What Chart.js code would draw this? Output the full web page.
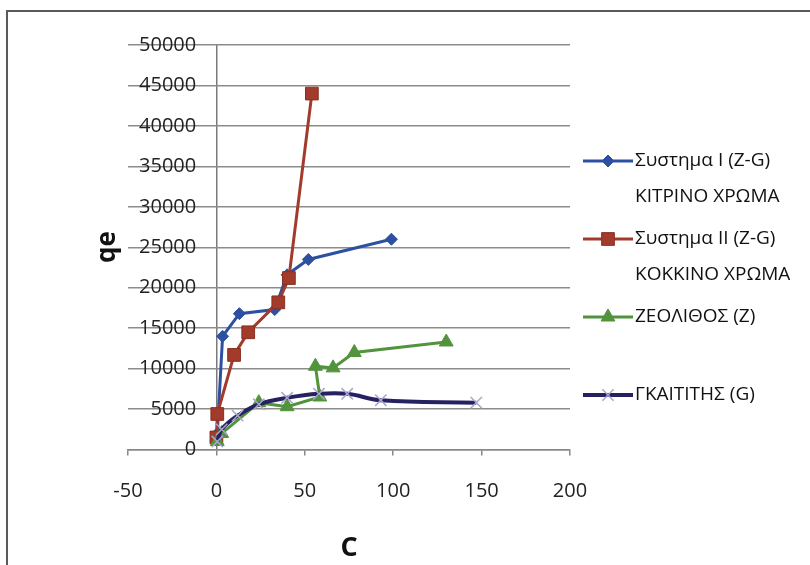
<!DOCTYPE html>
<html>
<head>
<meta charset="utf-8">
<script src="https://cdn.jsdelivr.net/npm/chart.js@4.4.1/dist/chart.umd.min.js"></script>
<style>
html, body { margin: 0; padding: 0; background: #fff; }
#wrap { position: relative; width: 810px; height: 565px; overflow: hidden; }
#frame { position: absolute; left: 6px; top: 10px; right: 0; bottom: 0; border-top: 2px solid #5a5a5a; border-left: 2px solid #5a5a5a; }
canvas { position: absolute; left: 0; top: 0; }
</style>
</head>
<body>
<div id="wrap">
  <div id="frame"></div>
  <canvas id="chart" width="810" height="565"></canvas>
</div>
<script>
// Values (C on x, qe on y)
const seriesNames = [
    ["Συστημα I (Z-G)", "ΚΙΤΡΙΝΟ ΧΡΩΜΑ"],
    ["Συστημα II (Z-G)", "ΚΟΚΚΙΝΟ ΧΡΩΜΑ"],
    ["ΖΕΟΛΙΘΟΣ (Z)"],
    ["ΓΚΑΙΤΙΤΗΣ (G)"]
];
const sys1C = [0.5, 3.5, 13, 33, 40, 52, 99];
const sys1Q = [2000, 14000, 16800, 17300, 21600, 23500, 26000];
const sys2C = [0, 0.5, 10, 18, 35, 41, 54];
const sys2Q = [1500, 4400, 11700, 14500, 18200, 21200, 44000];
const zeoC = [0.5, 3, 24, 40, 58.5, 56, 66, 78, 130];
const zeoQ = [1000, 2000, 5800, 5300, 6500, 10300, 10100, 12000, 13300];
const gkaC = [0.5, 3, 12, 24, 40, 58, 74, 93, 147];
const gkaQ = [1000, 2500, 4200, 5600, 6400, 6900, 6900, 6100, 5800];

const xTicks = [-50, 0, 50, 100, 150, 200];
const yTicks = [0, 5000, 10000, 15000, 20000, 25000, 30000, 35000, 40000, 45000, 50000];

function toPoints(xs, ys) {
    return xs.map((x, i) => ({ x: x, y: ys[i] }));
}

Chart.defaults.font.family = "'Open Sans', sans-serif";
Chart.defaults.color = '#222';

// Excel style legend at the right, with two-line labels, plus the rotated y title
const sideLegend = {
    id: 'sideLegend',
    afterDraw(chart) {
        const ctx = chart.ctx;
        ctx.save();
        chart.data.datasets.forEach((ds, i) => {
            const y = 161 + i * 78;
            ctx.strokeStyle = ds.borderColor;
            ctx.lineWidth = ds.borderWidth;
            ctx.beginPath();
            ctx.moveTo(583, y);
            ctx.lineTo(633, y);
            ctx.stroke();
            ctx.fillStyle = ds.pointBackgroundColor;
            ctx.strokeStyle = ds.pointBorderColor;
            ctx.lineWidth = ds.pointBorderWidth;
            Chart.helpers.drawPoint(ctx, {
                pointStyle: ds.pointStyle,
                radius: ds.pointRadius,
                borderWidth: ds.pointBorderWidth
            }, 608, y);
            ctx.fillStyle = '#111';
            ctx.font = "19px 'Open Sans', sans-serif";
            ctx.textAlign = 'left';
            ctx.textBaseline = 'middle';
            seriesNames[i].forEach((line, j) => ctx.fillText(line, 635, y + j * 36));
        });
        ctx.translate(108, 247);
        ctx.rotate(-Math.PI / 2);
        ctx.font = "bold 26px 'Open Sans', sans-serif";
        ctx.textAlign = 'center';
        ctx.textBaseline = 'middle';
        ctx.fillStyle = '#111';
        ctx.fillText('qe', 0, 0);
        ctx.restore();
    }
};

new Chart(document.getElementById('chart'), {
    type: 'line',
    data: {
        datasets: [{
            label: seriesNames[0].join(' '),
            data: toPoints(sys1C, sys1Q),
            order: 4,
            borderColor: '#2d50a0',
            borderWidth: 3,
            pointStyle: 'rectRot',
            pointRadius: 6,
            pointBackgroundColor: '#2d50a0',
            pointBorderColor: '#2d50a0',
            pointBorderWidth: 1
        }, {
            label: seriesNames[1].join(' '),
            data: toPoints(sys2C, sys2Q),
            order: 3,
            borderColor: '#a23b2b',
            borderWidth: 3,
            pointStyle: 'rect',
            pointRadius: 9,
            pointBackgroundColor: '#a23b2b',
            pointBorderColor: '#8a3022',
            pointBorderWidth: 1
        }, {
            label: seriesNames[2].join(' '),
            data: toPoints(zeoC, zeoQ),
            order: 2,
            borderColor: '#52933d',
            borderWidth: 3,
            pointStyle: 'triangle',
            pointRadius: 8,
            pointBackgroundColor: '#52933d',
            pointBorderColor: '#52933d',
            pointBorderWidth: 1
        }, {
            label: seriesNames[3].join(' '),
            data: toPoints(gkaC, gkaQ),
            order: 1,
            borderColor: '#262262',
            borderWidth: 4,
            tension: 0.4,
            pointStyle: 'crossRot',
            pointRadius: 8,
            pointBackgroundColor: '#aaa5cc',
            pointBorderColor: '#aaa5cc',
            pointBorderWidth: 1.5
        }]
    },
    options: {
        responsive: false,
        animation: false,
        layout: { padding: { left: 128, right: 240, top: 45, bottom: 0 } },
        plugins: { legend: { display: false }, tooltip: { enabled: false } },
        scales: {
            x: {
                type: 'linear',
                min: -50,
                max: 200,
                afterBuildTicks: (axis) => { axis.ticks = xTicks.map(v => ({ value: v })); },
                grid: {
                    drawOnChartArea: true,
                    tickLength: 6,
                    tickColor: '#888',
                    lineWidth: 1.5,
                    // only the line at C = 0 acts as the vertical axis
                    color: (c) => (c.tick && c.tick.value === 0) ? '#7a7a7a' : 'rgba(0,0,0,0)'
                },
                border: { color: '#888', width: 1.5 },
                ticks: { font: { size: 20 }, padding: 24, color: '#222' },
                title: {
                    display: true,
                    text: 'C',
                    font: { size: 27, weight: 'bold' },
                    color: '#111',
                    padding: { top: 5, bottom: 0 }
                }
            },
            y: {
                type: 'linear',
                // labels end just left of the C = 0 line, as in the Excel original
                position: { x: -11.4 },
                min: 0,
                max: 50000,
                afterBuildTicks: (axis) => { axis.ticks = yTicks.map(v => ({ value: v })); },
                grid: { color: '#8c8c8c', lineWidth: 1.5, drawTicks: false },
                border: { display: false },
                ticks: { font: { size: 20 }, color: '#222', callback: v => String(v) }
            }
        }
    },
    plugins: [sideLegend]
});
</script>
</body>
</html>
